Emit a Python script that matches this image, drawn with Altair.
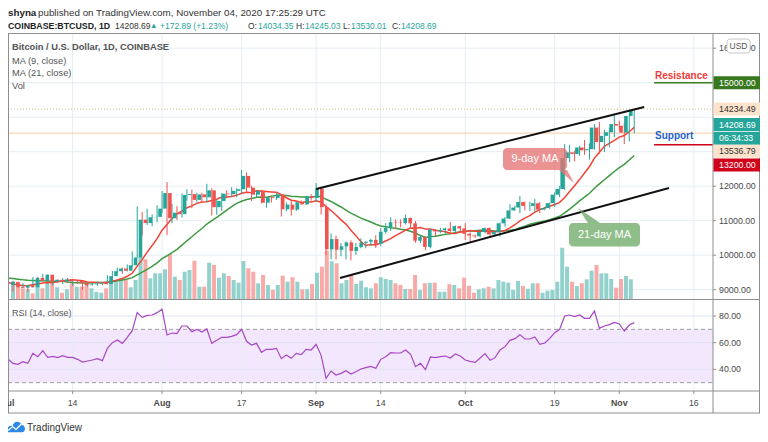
import altair as alt
import pandas as pd

FONT = "Liberation Sans"

# ---------------- data ----------------
# closes before Jul 1 (Jun 11 .. Jun 30), only used to warm up the moving averages
june_closes = [9270, 9466, 9474, 9337, 9428, 9523, 9455, 9383, 9295, 9355,
               9287, 9680, 9618, 9286, 9247, 9163, 9007, 9117, 9186, 9137]
first_open = 9137.0

closes = [
    # Jul
    9228, 9087, 9060, 9135, 9072, 9342, 9255, 9435, 9233, 9288, 9235, 9303, 9243, 9253, 9191, 9133,
    9154, 9174, 9213, 9162, 9392, 9536, 9614, 9551, 9707, 9934, 11030, 10930, 11101, 11110, 11351,
    # Aug
    11801, 11072, 11231, 11190, 11745, 11770, 11603, 11762, 11679, 11881, 11392, 11572, 11784, 11769,
    11866, 11911, 12298, 11960, 11755, 11864, 11523, 11677, 11655, 11760, 11330, 11467, 11320, 11533,
    11474, 11708, 11660,
    # Sep
    11929, 11393, 10172, 10467, 10157, 10257, 10370, 10124, 10236, 10360, 10393, 10442, 10329, 10678,
    10788, 10954, 10944, 10931, 11080, 10923, 10420, 10530, 10240, 10740, 10692, 10728, 10775, 10702,
    10843, 10776,
    # Oct
    10620, 10570, 10550, 10671, 10790, 10603, 10669, 10924, 11060, 11298, 11381, 11542, 11427, 11429,
    11505, 11323, 11367, 11508, 11754, 11920, 12815, 12982, 12935, 13122, 13040, 13072, 13700, 13279,
    13460, 13563, 13803,
    # Nov
    13756, 13551, 14034.35, 14208.69]

highs = [
    9290, 9255, 9125, 9190, 9140, 9365, 9370, 9460, 9445, 9310, 9300, 9330, 9340, 9280, 9275, 9210,
    9185, 9190, 9230, 9225, 9420, 9545, 9640, 9640, 9730, 10110, 11415, 11250, 11345, 11185, 11450,
    11860, 12120, 11490, 11420, 11790, 11910, 11900, 11810, 11810, 12070, 11940, 11620, 11800, 11880,
    11970, 11940, 12470, 12400, 12010, 11880, 11890, 11690, 11720, 11820, 11770, 11530, 11590, 11550,
    11590, 11720, 11770,
    12090, 11950, 11470, 10630, 10570, 10350, 10400, 10430, 10350, 10490, 10400, 10480, 10580, 10780,
    10930, 11100, 11040, 11040, 11180, 11090, 10990, 10560, 10540, 10780, 10760, 10790, 10800, 10960,
    10860, 10850,
    10930, 10660, 10600, 10700, 10800, 10800, 10690, 10950, 11110, 11480, 11440, 11720, 11560, 11550,
    11630, 11540, 11400, 11530, 11820, 12010, 13220, 13200, 13030, 13170, 13340, 13240, 13800, 13860,
    13640, 13700, 14100,
    13900, 13830, 14070, 14245.03]

lows = [
    9080, 8945, 9040, 9050, 8930, 9060, 9200, 9240, 9160, 9120, 9190, 9160, 9200, 9110, 9170, 9000,
    9090, 9120, 9110, 9130, 9150, 9280, 9480, 9460, 9530, 9650, 9920, 10565, 10870, 10840, 10960,
    11220, 10580, 10930, 11020, 11090, 11580, 11360, 11530, 11550, 11530, 11150, 11170, 11280, 11650,
    11690, 11690, 11790, 11820, 11570, 11680, 11500, 11380, 11530, 11600, 11120, 11270, 11150, 11280,
    11460, 11460, 11580,
    11540, 11180, 10000, 9880, 9875, 9970, 9880, 9850, 10010, 10200, 10200, 10270, 10210, 10260,
    10630, 10700, 10750, 10810, 10890, 10780, 10360, 10350, 10140, 10200, 10560, 10640, 10620, 10640,
    10650, 10660,
    10440, 10380, 10500, 10520, 10630, 10540, 10560, 10540, 10830, 11050, 11290, 11220, 11300, 11280,
    11270, 11220, 11300, 11340, 11400, 11680, 11890, 12700, 12720, 12880, 12910, 12770, 13060, 12940,
    12990, 13130, 13420,
    13630, 13220, 13300, 13530.01]

# volume, thousand BTC
volumes = [
    12.1, 11.0, 7.5, 6.8, 4.0, 12.1, 7.5, 13.3, 11.4, 8.2,
    4.4, 6.8, 11.0, 8.6, 8.6, 11.0, 7.5, 5.1, 4.4, 7.5,
    13.3, 13.3, 14.5, 13.3, 8.2, 13.3, 29.6, 27.8, 14.5, 18.0,
    18.0, 20.8, 31.5, 15.6, 13.3, 19.1, 20.3, 26.8, 8.6, 8.6,
    25.4, 23.8, 14.9, 18.0, 16.1, 13.3, 11.4, 26.6, 21.5, 19.1,
    11.0, 16.8, 9.8, 6.3, 9.8, 16.3, 12.1, 15.2, 12.1, 6.8,
    6.8, 10.5, 18.4, 22.6, 33.8, 26.4, 25.0, 11.0, 13.3, 16.3,
    10.5, 12.8, 8.2, 7.5, 11.0, 15.2, 14.0, 13.3, 11.0, 9.8,
    7.0, 7.0, 16.8, 6.3, 11.0, 11.4, 11.4, 5.1, 5.1, 10.3,
    9.8, 7.5, 14.9, 9.3, 4.4, 6.8, 7.5, 8.6, 7.5, 13.3,
    12.1, 11.4, 6.3, 12.6, 9.1, 7.2, 11.0, 11.0, 4.4, 5.8,
    6.3, 12.1, 35.9, 22.6, 12.1, 9.1, 11.0, 13.8, 19.8, 23.8,
    18.0, 18.0, 14.0, 7.9, 14.0, 16.1, 13.8]

rsi_values = [
    47.75, 44.5, 43.75, 45.75, 44.5, 52, 49.5, 54, 49, 49.75,
    48.75, 50.25, 49, 49, 47.5, 45.5, 46.25, 47, 48, 46.5,
    55.75, 60, 62, 59.5, 64, 69, 82.5, 79, 80.5, 80.75,
    82.5, 85, 65.75, 67.25, 66.75, 72.5, 72.5, 68.25, 70, 68,
    70.25, 59.5, 61.75, 64, 64, 64.75, 66, 70, 61, 58.25,
    59.5, 52.75, 55, 55, 55.75, 48, 50.75, 48.25, 52, 51,
    55, 54.5, 58.75, 50.5, 33.25, 38.75, 35.75, 37, 39, 36.5,
    38.25, 40.25, 41.25, 42.25, 40.75, 47.5, 49.5, 52.5, 52.25, 52.25,
    54.5, 51.25, 42, 44.5, 39.75, 49.25, 48.75, 49.5, 50, 48.5,
    51.5, 50, 47, 46, 45.25, 48.5, 51.75, 46.75, 48.75, 54.5,
    57, 61.75, 63, 66, 62.75, 62.75, 64.25, 58.75, 59.75, 63.25,
    67.5, 70, 80, 80.75, 79.5, 80.75, 78.25, 78.25, 83.75, 70.75,
    72.5, 73.5, 75.25, 74, 68.75, 73.25, 75]

tick_days = [0, 13, 31, 47, 62, 75, 92, 110, 123, 138]
tick_labels = ["Jul", "14", "Aug", "17", "Sep", "14", "Oct", "19", "Nov", "16"]
tick_is_month = [True, False, True, False, True, False, True, False, True, False]
price_grid = [9000, 10000, 11000, 12000, 13000, 14000, 15000, 16000]
price_axis_labels = [9000, 10000, 11000, 12000, 16000]
rsi_grid = [40, 60, 80]

# channel lines (day index, price)
channel_name = ["upper", "upper", "lower", "lower"]
channel_day = [62, 128, 66.8, 133]
channel_price = [11919, 14296, 9339, 11948]

resistance_level = 15000
support_level = 13200
level_days = [130, 141.8]
high_line = 14234.49
mid_line = 13536.79

# ---------------- frames ----------------
n = len(closes)
days = list(range(n))
opens = [first_open] + closes[:-1]
direction = ["up" if c >= o else "down" for o, c in zip(opens, closes)]
candles = pd.DataFrame({"day": days, "open": opens, "high": highs, "low": lows,
                        "close": closes, "vol": volumes, "dir": direction,
                        "rsi": rsi_values})
ma_src = pd.DataFrame({"day": list(range(-len(june_closes), 0)) + days,
                       "close": june_closes + closes})

PXDAY = 4.97
XS = alt.Scale(domain=[0, 150], range=[0, 150 * PXDAY], nice=False, zero=False)
PY = alt.Scale(domain=[9000, 16000], range=[281.7, 40.2], nice=False, zero=False)
VY = alt.Scale(domain=[0, 70], range=[291, 191], nice=False)
RY = alt.Scale(domain=[30, 80], range=[374.67, 308], nice=False, zero=False)
PIXX = alt.Scale(domain=[0, 752], range=[0, 752], nice=False, zero=False)
PIXY = alt.Scale(domain=[0, 426], range=[0, 426], nice=False, zero=False)
CANDLE = alt.Scale(domain=["up", "down"], range=["#26a69a", "#ef5350"])
VOLC = alt.Scale(domain=["up", "down"], range=["#93d2cc", "#f7aaa8"])

X = lambda f="day": alt.X(f"{f}:Q", scale=XS, axis=None)
GRID = "#e5eef2"
FRAME = "#8e8e8e"
LAB = "#4a4a4a"

layers = []


def one(**kw):
    return alt.Chart(pd.DataFrame({k: [v] for k, v in kw.items()}) if kw else pd.DataFrame({"a": [0]}))


def txt(s, x, y, size=9.5, color="#333", weight="normal", align="left"):
    return alt.Chart(pd.DataFrame({"t": [s]})).mark_text(
        align=align, baseline="middle", fontSize=size, color=color,
        fontWeight=weight, font=FONT).encode(x=alt.value(x), y=alt.value(y), text="t:N")


def hrule(y, x1, x2, color=FRAME, w=1, dash=None):
    kw = dict(color=color, strokeWidth=w)
    if dash:
        kw["strokeDash"] = dash
    return one().mark_rule(**kw).encode(x=alt.value(x1), x2=alt.value(x2), y=alt.value(y))


def vrule(x, y1, y2, color=FRAME, w=1):
    return one().mark_rule(color=color, strokeWidth=w).encode(
        x=alt.value(x), y=alt.value(y1), y2=alt.value(y2))


# RSI band and grids
layers.append(one(lo=30, hi=70).mark_rect(color="#f3e7fd").encode(
    x=alt.value(0), x2=alt.value(705),
    y=alt.Y("hi:Q", scale=RY, axis=None), y2="lo:Q"))
layers.append(alt.Chart(pd.DataFrame({"day": tick_days})).mark_rule(color=GRID).encode(
    x=X(), y=alt.value(25.5), y2=alt.value(383)))
layers.append(alt.Chart(pd.DataFrame({"p": price_grid})).mark_rule(color=GRID).encode(
    y=alt.Y("p:Q", scale=PY, axis=None), x=alt.value(0), x2=alt.value(705)))
layers.append(alt.Chart(pd.DataFrame({"r": rsi_grid})).mark_rule(color="#e2e2f0").encode(
    y=alt.Y("r:Q", scale=RY, axis=None), x=alt.value(0), x2=alt.value(705)))
layers.append(alt.Chart(pd.DataFrame({"r": [30, 70]})).mark_rule(
    color="#a0a0a0", strokeDash=[4, 3]).encode(
    y=alt.Y("r:Q", scale=RY, axis=None), x=alt.value(0), x2=alt.value(705)))

# horizontal price level lines
layers.append(alt.Chart(pd.DataFrame({"p": [high_line]})).mark_rule(
    color="#d9b98f", strokeDash=[1, 2]).encode(
    y=alt.Y("p:Q", scale=PY, axis=None), x=alt.value(0), x2=alt.value(705)))
layers.append(alt.Chart(pd.DataFrame({"p": [mid_line]})).mark_rule(
    color="#fbd6b3", strokeWidth=1.2).encode(
    y=alt.Y("p:Q", scale=PY, axis=None), x=alt.value(0), x2=alt.value(705)))

# volume
layers.append(alt.Chart(candles).mark_bar(size=4).encode(
    x=X(), y=alt.Y("vol:Q", scale=VY, axis=None),
    color=alt.Color("dir:N", scale=VOLC, legend=None)))

# moving averages
ma_base = alt.Chart(ma_src).transform_window(
    ma9="mean(close)", frame=[-8, 0], sort=[alt.SortField("day")]
).transform_window(
    ma21="mean(close)", frame=[-20, 0], sort=[alt.SortField("day")]
).transform_filter("datum.day >= 0")
layers.append(ma_base.mark_line(color="#3f9a43", strokeWidth=1.5).encode(
    x=X(), y=alt.Y("ma21:Q", scale=PY, axis=None)))
layers.append(ma_base.mark_line(color="#f44336", strokeWidth=1.5).encode(
    x=X(), y=alt.Y("ma9:Q", scale=PY, axis=None)))

# candles
layers.append(alt.Chart(candles).mark_rule(strokeWidth=1).encode(
    x=X(), y=alt.Y("low:Q", scale=PY, axis=None), y2="high:Q",
    color=alt.Color("dir:N", scale=CANDLE, legend=None)))
layers.append(alt.Chart(candles).mark_bar(size=3.6).encode(
    x=X(), y=alt.Y("open:Q", scale=PY, axis=None), y2="close:Q",
    color=alt.Color("dir:N", scale=CANDLE, legend=None)))

# channel
layers.append(alt.Chart(pd.DataFrame({"line": channel_name, "day": channel_day,
                                      "p": channel_price})).mark_line(
    color="#111", strokeWidth=2).encode(
    x=X(), y=alt.Y("p:Q", scale=PY, axis=None), detail="line:N"))

# resistance / support
layers.append(alt.Chart(pd.DataFrame({"day": level_days, "p": [resistance_level] * 2})).mark_line(
    color="#3c7d22", strokeWidth=1.5).encode(x=X(), y=alt.Y("p:Q", scale=PY, axis=None)))
layers.append(alt.Chart(pd.DataFrame({"day": level_days, "p": [support_level] * 2})).mark_line(
    color="#d0021b", strokeWidth=1.5).encode(x=X(), y=alt.Y("p:Q", scale=PY, axis=None)))
layers.append(txt("Resistance", 647, 67.5, 10, "#ef3b3b", "bold"))
layers.append(txt("Support", 647, 127.5, 10, "#1f62cf", "bold"))

# RSI line
layers.append(alt.Chart(candles).mark_line(color="#a646c4", strokeWidth=1.2).encode(
    x=X(), y=alt.Y("rsi:Q", scale=RY, axis=None)))

# MA callouts
layers.append(one().mark_rect(color="#e57373", opacity=0.78, cornerRadius=4).encode(
    x=alt.value(495), x2=alt.value(559), y=alt.value(140), y2=alt.value(162)))
layers.append(alt.Chart(pd.DataFrame({"px": [551, 559, 566], "top": [162, 162, 175],
                                      "bot": [162, 168.9, 175]})).mark_area(
    color="#e57373", opacity=0.78).encode(
    x=alt.X("px:Q", scale=PIXX, axis=None), y=alt.Y("top:Q", scale=PIXY, axis=None), y2="bot:Q"))
layers.append(txt("9-day MA", 527, 151, 11, "white", align="center"))
layers.append(one().mark_rect(color="#6aa864", opacity=0.75, cornerRadius=4).encode(
    x=alt.value(561), x2=alt.value(632), y=alt.value(215), y2=alt.value(238.5)))
layers.append(alt.Chart(pd.DataFrame({"px": [570, 580, 592], "top": [200, 206.8, 215],
                                      "bot": [200, 215, 215]})).mark_area(
    color="#6aa864", opacity=0.75).encode(
    x=alt.X("px:Q", scale=PIXX, axis=None), y=alt.Y("top:Q", scale=PIXY, axis=None), y2="bot:Q"))
layers.append(txt("21-day MA", 596.5, 227, 11, "white", align="center"))

# frame
layers.append(hrule(25.5, 0, 752))
layers.append(hrule(291.5, 0, 752))
layers.append(hrule(383, 0, 752))
layers.append(hrule(405, 0, 752))
layers.append(vrule(0.5, 25.5, 405))
layers.append(vrule(705, 25.5, 405))
layers.append(vrule(751.5, 25.5, 405))

# time axis
tick_df = pd.DataFrame({"day": tick_days, "label": tick_labels, "month": tick_is_month})
layers.append(alt.Chart(tick_df).mark_rule(color=FRAME).encode(
    x=X(), y=alt.value(383), y2=alt.value(386)))
layers.append(alt.Chart(tick_df[tick_df.month]).mark_text(
    fontSize=8.8, fontWeight="bold", color=LAB, baseline="middle", font=FONT).encode(
    x=X(), y=alt.value(395), text="label:N"))
layers.append(alt.Chart(tick_df[~tick_df.month]).mark_text(
    fontSize=8.8, color=LAB, baseline="middle", font=FONT).encode(
    x=X(), y=alt.value(395), text="label:N"))

# price axis labels
pl = pd.DataFrame({"p": price_axis_labels, "lab": [f"{v:.2f}" for v in price_axis_labels]})
layers.append(alt.Chart(pl).mark_rule(color=FRAME).encode(
    y=alt.Y("p:Q", scale=PY, axis=None), x=alt.value(705), x2=alt.value(708)))
layers.append(alt.Chart(pl).mark_text(align="left", baseline="middle", fontSize=8.8,
                                      color=LAB, font=FONT).encode(
    y=alt.Y("p:Q", scale=PY, axis=None), x=alt.value(711), text="lab:N"))
rl = pd.DataFrame({"r": rsi_grid, "lab": [f"{v:.2f}" for v in rsi_grid]})
layers.append(alt.Chart(rl).mark_rule(color=FRAME).encode(
    y=alt.Y("r:Q", scale=RY, axis=None), x=alt.value(705), x2=alt.value(708)))
layers.append(alt.Chart(rl).mark_text(align="left", baseline="middle", fontSize=8.8,
                                      color=LAB, font=FONT).encode(
    y=alt.Y("r:Q", scale=RY, axis=None), x=alt.value(711), text="lab:N"))

# USD badge
layers.append(one().mark_rect(color="white", stroke="#c8c8c8", strokeWidth=1, cornerRadius=3).encode(
    x=alt.value(719), x2=alt.value(742), y=alt.value(31), y2=alt.value(45)))
layers.append(txt("USD", 730.5, 38, 8.5, "#555", align="center"))

# price badges
badges = [(74.7, "15000.00", "#37781f", "white"),
          (101.1, "14234.49", "#fde3cb", "#333"),
          (116.5, "14208.69", "#26a69a", "white"),
          (130.3, "06:34:33", "#26a69a", "white"),
          (143.2, "13536.79", "#fde3cb", "#333"),
          (157.0, "13200.00", "#d0021b", "white")]
for yc, lab, bg, fg in badges:
    layers.append(one().mark_rect(color=bg).encode(
        x=alt.value(705.5), x2=alt.value(752), y=alt.value(yc - 6.5), y2=alt.value(yc + 6.5)))
    layers.append(txt(lab, 711, yc, 8.8, fg))

# legends in panes
layers.append(txt("Bitcoin / U.S. Dollar, 1D, COINBASE", 4, 38.7, 9.3, "#555", "bold"))
layers.append(txt("MA (9, close)", 4, 53, 9.3, "#555"))
layers.append(txt("MA (21, close)", 4, 65.3, 9.3, "#555"))
layers.append(txt("Vol", 4, 78, 9.3, "#555"))
layers.append(txt("RSI (14, close)", 4, 304.7, 9, "#555"))

# header
layers.append(txt("shyna", 0, 5, 9.8, "#222", "bold"))
layers.append(txt("published on TradingView.com, November 04, 2020 17:25:29 UTC", 30, 5, 9.8, "#333"))
layers.append(txt("COINBASE:BTCUSD, 1D", 0, 17.5, 8.8, "#222", "bold"))
header_parts = [("14208.69", 107, "#333"), ("\u25B2", 142, "#26a69a"),
                ("+172.89 (+1.23%)", 152, "#26a69a"), ("O:", 240, "#333"),
                ("14034.35", 250, "#26a69a"), ("H:", 288, "#333"),
                ("14245.03", 297, "#26a69a"), ("L:", 335, "#333"),
                ("13530.01", 343, "#26a69a"), ("C:", 384, "#333"),
                ("14208.69", 393, "#26a69a")]
for s, x, c in header_parts:
    layers.append(txt(s, x, 17.5, 8.5 if s != "\u25B2" else 7.5, c))

# footer logo
layers.append(one().mark_point(
    shape="M-1,0.55 C-1.05,0.05 -0.65,-0.2 -0.35,-0.1 C-0.25,-0.6 0.35,-0.7 0.6,-0.2 C1,-0.2 1.05,0.55 0.6,0.55 Z",
    filled=True, color="#2d89e6", size=380, opacity=1).encode(x=alt.value(8), y=alt.value(419)))
layers.append(one().mark_point(
    shape="M-0.8,0.35 L-0.35,-0.05 L0,0.25 L0.55,-0.3",
    filled=False, color="white", strokeWidth=1.3, size=380, opacity=1).encode(
    x=alt.value(8), y=alt.value(419)))
layers.append(txt("TradingView", 19, 419.5, 10, "#333"))

chart = alt.layer(*layers).resolve_scale(
    x="independent", y="independent", color="independent"
).properties(
    width=752, height=426, autosize="none", padding=0, background="white"
).configure_view(stroke=None)

chart.save("out.html", embed_options={"renderer": "svg", "actions": False})
